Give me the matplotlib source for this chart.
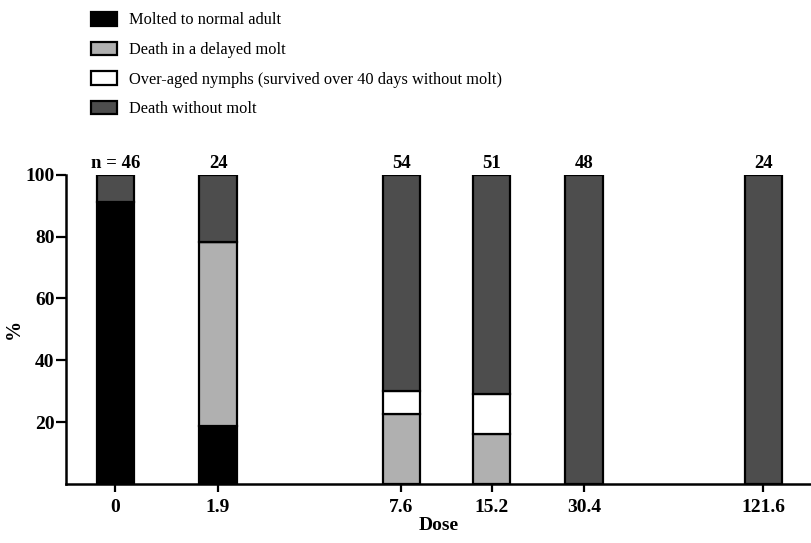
import numpy as np
import matplotlib
matplotlib.use("Agg")
import matplotlib.pyplot as plt

doses = ["0", "1.9", "7.6", "15.2", "30.4", "121.6"]
n_labels = ["n = 46", "24", "54", "51", "48", "24"]
molted = [91.3, 18.7, 0, 0, 0, 0]
delayed = [0, 59.6, 22.7, 16.0, 0, 0]
overaged = [0, 0, 7.3, 13.2, 0, 0]
no_molt = [8.7, 21.7, 70.0, 70.8, 100, 100]

series = [
    ("Molted to normal adult", molted, "#000000"),
    ("Death in a delayed molt", delayed, "#b0b0b0"),
    ("Over-aged nymphs (survived over 40 days without molt)", overaged, "#ffffff"),
    ("Death without molt", no_molt, "#4d4d4d"),
]

# bar centres along the axis (groups are not evenly spaced in the original)
xpos = np.array([0, 1.129, 3.143, 4.136, 5.151, 7.121])

plt.rcParams['font.family'] = ['Liberation Serif', 'DejaVu Serif']

fig = plt.figure(figsize=(8.12, 5.43), dpi=100)
ax = fig.add_axes([0.081, 0.109, 0.919, 0.569])

bottom = np.zeros(len(doses))
handles = []
for name, vals, col in series:
    vals = np.array(vals)
    b = ax.bar(xpos, vals, width=0.41, bottom=bottom, color=col,
               edgecolor="black", linewidth=1.6, label=name)
    handles.append(b)
    bottom = bottom + vals

for x, lab in zip(xpos, n_labels):
    ax.text(x, 100.8, lab, ha="center", va="bottom", fontsize=13.5, fontweight="bold")

ax.set_xlim(-0.545, 7.655)
ax.set_ylim(0, 100)
ax.set_yticks([20, 40, 60, 80, 100])
ax.set_xticks(xpos)
ax.set_xticklabels(doses)
ax.set_xlabel("Dose", fontsize=14, fontweight="bold", labelpad=1)
ax.set_ylabel("%", fontsize=14.5, fontweight="bold", labelpad=1)
for lbl in ax.get_xticklabels() + ax.get_yticklabels():
    lbl.set_fontweight("bold")
ax.tick_params(axis="both", labelsize=14, width=1.6, direction="out")
ax.tick_params(axis="x", length=6, pad=5)
ax.tick_params(axis="y", length=7, pad=1)
ax.spines["top"].set_visible(False)
ax.spines["right"].set_visible(False)
ax.spines["left"].set_linewidth(1.8)
ax.spines["bottom"].set_linewidth(1.8)

fig.legend(handles=handles, loc="upper left", bbox_to_anchor=(0.094, 1.005),
           frameon=False, fontsize=11.8, handlelength=1.6, handleheight=0.9,
           labelspacing=0.8, handletextpad=0.7)

fig.savefig("out.png", dpi=100)
